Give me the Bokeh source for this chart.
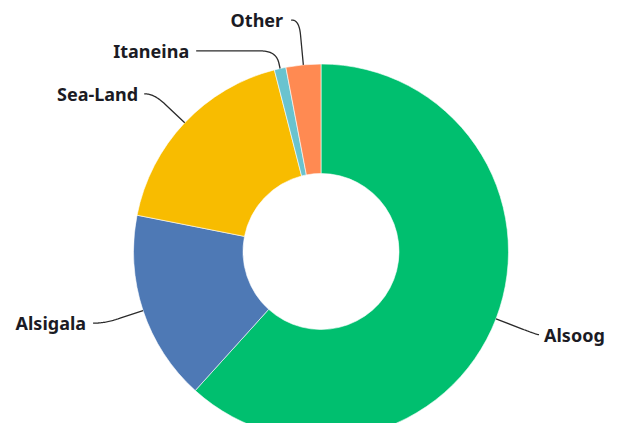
import numpy as np
from bokeh.plotting import figure
from bokeh.models import Range1d, ColumnDataSource
from bokeh.core.properties import value
from bokeh.embed import file_html
from bokeh.resources import INLINE

# ---- data ----
labels = ["Alsoog", "Alsigala", "Sea-Land", "Itaneina", "Other"]
shares = [61.7, 16.4, 17.9, 1.0, 3.0]
colors = ["#00BF6F", "#4E79B5", "#F8BC00", "#6AC3CF", "#FF8A52"]

# ---- layout (pixels; 1 data unit == 1 px) ----
CX, CY = 320.5, 251.0          # donut centre in picture coords
R_OUT, R_IN = 187.5, 78.0
leader_radial = [44, 40, 42, 18, 45]
leader_horiz = [2, 12, 10, 80, 8]
label_gap = [5, 7, 6, 7, 8]

W, H = 607, 423
p = figure(width=W, height=H, output_backend="svg", toolbar_location=None,
           x_range=Range1d(-CX, W - CX), y_range=Range1d(CY - H, CY),
           x_axis_location=None, y_axis_location=None, min_border=0,
           outline_line_color=None, background_fill_color="white",
           border_fill_color="white")
p.grid.visible = False

vals = np.array(shares, dtype=float)
frac = vals / vals.sum()
cum = np.concatenate([[0.0], np.cumsum(frac)])
# clockwise from 12 o'clock
start = np.pi / 2 - 2 * np.pi * cum[:-1]
end = np.pi / 2 - 2 * np.pi * cum[1:]

src = ColumnDataSource(dict(start=start, end=end, color=colors, label=labels))
p.annular_wedge(x=0, y=0, inner_radius=R_IN, outer_radius=R_OUT,
                start_angle="start", end_angle="end", direction="clock",
                fill_color="color", line_color="white", line_width=0.6,
                source=src)

mid = (start + end) / 2
xs_lines, ys_lines = [], []
lx, ly, rx, ry, ltxt, rtxt = [], [], [], [], [], []
for i, a in enumerate(mid):
    d = np.array([np.cos(a), np.sin(a)])
    p0 = d * R_OUT
    e = p0 + d * leader_radial[i]
    side = 1.0 if d[0] >= 0 else -1.0
    h = np.array([side, 0.0])
    p3 = e + h * leader_horiz[i]
    k1 = min(0.7 * leader_radial[i], 15)
    k2 = min(0.9 * leader_horiz[i], 15)
    A = e - d * k1
    B = e + h * k2
    t = np.linspace(0, 1, 24)[:, None]
    curve = (1 - t) ** 2 * A + 2 * (1 - t) * t * e + t ** 2 * B
    pts = np.vstack([p0, curve, p3])
    xs_lines.append(list(pts[:, 0]))
    ys_lines.append(list(pts[:, 1]))
    if side > 0:
        rx.append(p3[0] + label_gap[i]); ry.append(p3[1]); rtxt.append(labels[i])
    else:
        lx.append(p3[0] - label_gap[i]); ly.append(p3[1]); ltxt.append(labels[i])

p.multi_line(xs=xs_lines, ys=ys_lines, line_color="#2b2b2b", line_width=1.3)

common = dict(text_font=value("Noto Sans"), text_font_style="bold",
              text_font_size="18px", text_color="#1b1b24", text_baseline="middle")
p.text(x=rx, y=ry, text=rtxt, text_align="left", **common)
p.text(x=lx, y=ly, text=ltxt, text_align="right", **common)

open("out.html", "w").write(file_html(p, INLINE))
